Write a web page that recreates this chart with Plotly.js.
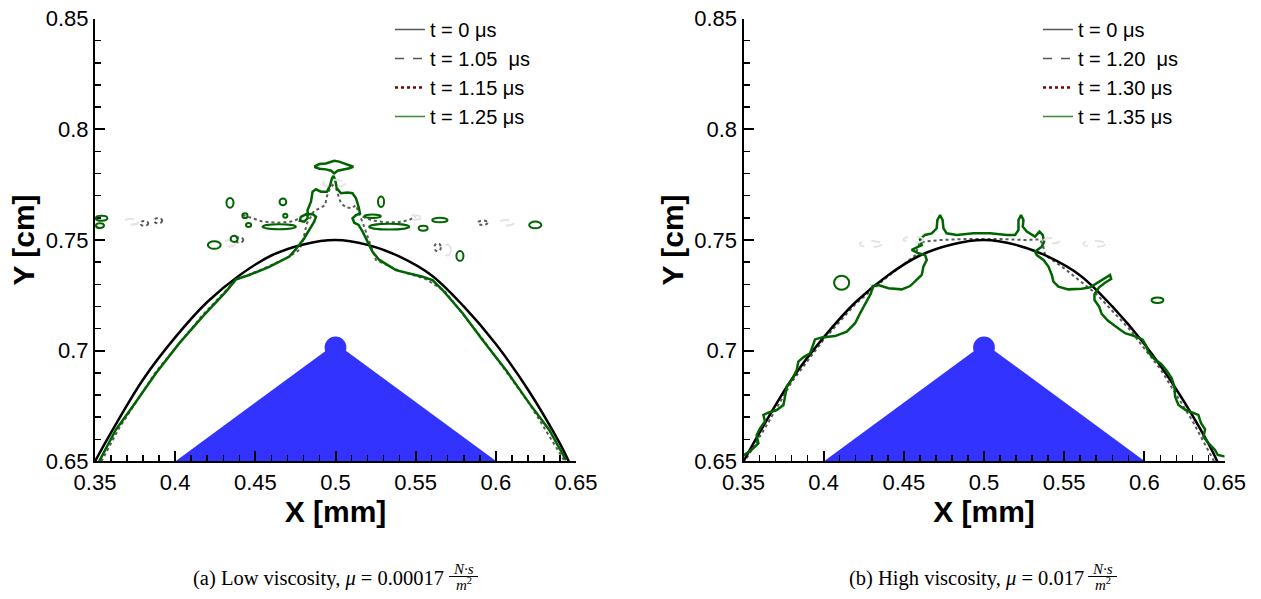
<!DOCTYPE html>
<html><head><meta charset="utf-8">
<script src="https://cdn.plot.ly/plotly-3.0.1.min.js"></script>
<style>html,body{margin:0;padding:0;background:#fff}</style>
</head><body><div id="chart" style="width:1261px;height:599px"></div>
<script>
// ---------- shared: initial interface (t = 0) and the blue wedge ----------
const t0X = [0.350,0.360,0.380,0.400,0.420,0.440,0.460,0.480,0.500,0.520,0.540,0.560,0.580,0.600,0.620,0.640,0.6455];
const t0Y = [0.650,0.663,0.687,0.706,0.722,0.734,0.743,0.748,0.750,0.7478,0.7425,0.734,0.720,0.703,0.6825,0.658,0.650];
const wedgeX = [0.400,0.494,0.5065,0.6005];
const wedgeY = [0.650,0.700,0.700,0.650];
const capCx = 0.500, capCy = 0.7015, capRx = 0.0068, capRy = 0.0049;

// ---------- (a) low viscosity ----------
const lowLabels = ['t = 0 \u03bcs', 't = 1.05\u00a0 \u03bcs', 't = 1.15 \u03bcs', 't = 1.25 \u03bcs'];
const lowGreenX = [0.3526,0.3629,0.3734,0.3880,0.4025,0.4171,0.4317,0.4379,0.4462,0.4587,0.4712,0.4760,0.4805,0.4836,0.4867,0.4878,0.4857,0.4816,0.4784,0.4778,0.4805,0.4826,0.4826,0.4847,0.4857,0.4878,0.4909,0.4947,0.4967,0.4978,0.4988,0.4998,0.5009,0.5034,0.5075,0.5106,0.5128,0.5144,0.5153,0.5128,0.5106,0.5117,0.5144,0.5169,0.5200,0.5231,0.5273,0.5377,0.5543,0.5605,0.5668,0.5793,0.5917,0.6063,0.6209,0.6333,0.6438];
const lowGreenY = [0.6500,0.6642,0.6747,0.6898,0.7033,0.7154,0.7267,0.7322,0.7342,0.7379,0.7425,0.7465,0.7508,0.7545,0.7583,0.7605,0.7617,0.7616,0.7605,0.7587,0.7583,0.7598,0.7635,0.7673,0.7718,0.7729,0.7718,0.7718,0.7748,0.7779,0.7789,0.7771,0.7733,0.7711,0.7714,0.7711,0.7688,0.7650,0.7620,0.7613,0.7598,0.7578,0.7568,0.7538,0.7492,0.7447,0.7410,0.7364,0.7334,0.7319,0.7274,0.7169,0.7048,0.6913,0.6762,0.6642,0.6506];
const lowCapX = [0.4867,0.4899,0.4940,0.4972,0.4992,0.5023,0.5065,0.5111,0.5086,0.5044,0.5013,0.4992,0.4972,0.4940,0.4899,0.4867];
const lowCapY = [0.7831,0.7843,0.7846,0.7854,0.7858,0.7854,0.7843,0.7831,0.7824,0.7819,0.7813,0.7801,0.7813,0.7819,0.7822,0.7831];
const lowDotX = [0.3540,0.3650,0.3880,0.4170,0.4380,0.4550,0.4700,0.4774,0.4799,0.4811,0.4826,0.4847,0.4867,0.4903,0.4936,0.4946,0.4961,0.4982,0.5003,0.5019,0.5034,0.5065,0.5102,0.5127,0.5144,0.5159,0.5179,0.5200,0.5227,0.5252,0.5400,0.5560,0.5680,0.5920,0.6210,0.6430,null,0.4420,0.4483,0.4545,0.4628,0.4711,0.4763,0.4800,null,0.5169,0.5231,0.5314,0.5398,0.5460,0.5497];
const lowDotY = [0.6500,0.6650,0.6905,0.7160,0.7320,0.7370,0.7420,0.7455,0.7500,0.7545,0.7583,0.7605,0.7633,0.7643,0.7658,0.7696,0.7726,0.7748,0.7733,0.7696,0.7666,0.7648,0.7643,0.7658,0.7628,0.7598,0.7560,0.7515,0.7462,0.7410,0.7360,0.7325,0.7270,0.7050,0.6760,0.6500,null,0.7613,0.7598,0.7583,0.7578,0.7581,0.7593,0.7583,null,0.7605,0.7588,0.7580,0.7581,0.7590,0.7605];
// detached droplets (green, t = 1.25)
const lowBlobCx = [0.4342,0.4672,0.5284,0.3541,0.3531,0.4435,0.4458,0.4649,0.4687,0.5335,0.5231,0.5651,0.5547,0.6246,0.4244,0.4368,0.5776];
const lowBlobCy = [0.7668,0.7672,0.7673,0.7598,0.7565,0.7610,0.7568,0.7560,0.7610,0.7560,0.7607,0.7590,0.7553,0.7568,0.7477,0.7505,0.7428];
const lowBlobRx = [0.0022,0.0021,0.0019,0.0036,0.0025,0.0016,0.0016,0.0104,0.0013,0.0125,0.0052,0.0048,0.0028,0.0038,0.0040,0.0022,0.0022];
const lowBlobRy = [0.0022,0.0015,0.0024,0.0011,0.0011,0.0011,0.0009,0.0011,0.0009,0.0013,0.0008,0.0010,0.0011,0.0015,0.0017,0.0014,0.0022];
// small droplets of t = 1.15 (dotted)
const lowDropCx = [0.3807,0.3894,0.5918,0.5637,0.4400];
const lowDropCy = [0.7575,0.7587,0.7578,0.7467,0.7500];
const lowDropRx = [0.0025,0.0025,0.0030,0.0020,0.0025];
const lowDropRy = [0.0011,0.0012,0.0010,0.0018,0.0012];
// faint droplets of t = 1.05 (dashed)
const lowFaintCx = [0.3728,0.4992,0.6067,0.4337,0.5699,0.5493];
const lowFaintCy = [0.7583,0.7756,0.7578,0.7485,0.7455,0.7602];
const lowFaintRx = [0.0045,0.0070,0.0045,0.0040,0.0020,0.0040];
const lowFaintRy = [0.0013,0.0016,0.0012,0.0014,0.0025,0.0010];

// ---------- (b) high viscosity ----------
const highLabels = ['t = 0 \u03bcs', 't = 1.20\u00a0 \u03bcs', 't = 1.30 \u03bcs', 't = 1.35 \u03bcs'];
const highGreenX = [0.3489,0.3551,0.3593,0.3582,0.3603,0.3634,0.3624,0.3655,0.3707,0.3749,0.3759,0.3769,0.3801,0.3832,0.3842,0.3873,0.3915,0.3936,0.3946,0.3988,0.4071,0.4144,0.4196,0.4227,0.4268,0.4295,0.4306,0.4341,0.4404,0.4487,0.4539,0.4580,0.4612,0.4622,0.4643,0.4632,0.4591,0.4549,0.4612,0.4601,0.4632,0.4674,0.4705,0.4709,0.4726,0.4742,0.4747,0.4767,0.4830,0.4934,0.5038,0.5142,0.5194,0.5215,0.5215,0.5231,0.5246,0.5242,0.5267,0.5318,0.5346,0.5366,0.5375,0.5360,0.5318,0.5329,0.5371,0.5402,0.5423,0.5433,0.5464,0.5526,0.5610,0.5662,0.5703,0.5745,0.5786,0.5793,0.5755,0.5718,0.5689,0.5689,0.5718,0.5734,0.5772,0.5828,0.5880,0.5938,0.5988,0.6011,0.6026,0.6061,0.6105,0.6140,0.6171,0.6188,0.6192,0.6213,0.6258,0.6337,0.6354,0.6379,0.6369,0.6400,0.6441,0.6458,0.6508];
const highGreenY = [0.6521,0.6552,0.6582,0.6619,0.6649,0.6680,0.6710,0.6720,0.6732,0.6755,0.6792,0.6838,0.6868,0.6913,0.6951,0.6970,0.6988,0.7026,0.7051,0.7060,0.7066,0.7086,0.7124,0.7169,0.7222,0.7259,0.7292,0.7297,0.7282,0.7277,0.7292,0.7319,0.7342,0.7380,0.7410,0.7432,0.7440,0.7455,0.7477,0.7503,0.7523,0.7530,0.7553,0.7590,0.7613,0.7590,0.7553,0.7530,0.7523,0.7530,0.7530,0.7523,0.7523,0.7545,0.7590,0.7613,0.7590,0.7560,0.7538,0.7515,0.7538,0.7523,0.7493,0.7470,0.7447,0.7432,0.7410,0.7380,0.7342,0.7312,0.7289,0.7277,0.7280,0.7286,0.7304,0.7322,0.7342,0.7324,0.7307,0.7286,0.7256,0.7229,0.7199,0.7166,0.7136,0.7106,0.7079,0.7066,0.7051,0.7023,0.6993,0.6963,0.6940,0.6910,0.6875,0.6835,0.6792,0.6755,0.6732,0.6710,0.6672,0.6645,0.6612,0.6582,0.6552,0.6529,0.6521];
const highDotX = [0.3520,0.3650,0.3800,0.4000,0.4200,0.4400,0.4570,0.4600,0.4726,0.4900,0.5100,0.5250,0.5350,0.5370,0.5381,0.5500,0.5700,0.5900,0.6100,0.6300,0.6435];
const highDotY = [0.6515,0.6670,0.6858,0.7050,0.7212,0.7335,0.7430,0.7490,0.7500,0.7505,0.7505,0.7500,0.7503,0.7470,0.7432,0.7372,0.7257,0.7103,0.6917,0.6683,0.6500];
const highBlobCx = [0.4112,0.6082];
const highBlobCy = [0.7307,0.7228];
const highBlobRx = [0.0047,0.0037];
const highBlobRy = [0.0032,0.0012];
const highFaintCx = [0.4293,0.4560,0.5423,0.5687];
const highFaintCy = [0.7482,0.7502,0.7497,0.7483];
const highFaintRx = [0.0068,0.0062,0.0050,0.0068];
const highFaintRy = [0.0014,0.0014,0.0012,0.0014];

// ---------- styles ----------
const BLACK = '#000000', GREEN = '#006400', GRAYDOT = '#5a5a5a', FAINT = '#e4e4e4', BLUE = '#3333ff';
const SANS = 'Liberation Sans, Arial, Helvetica, sans-serif';
const SERIF = 'Liberation Serif, Times New Roman, serif';

function panelTraces(xa, ya, legendId, labels, greenX, greenY, dotX, dotY, extra) {
  const tr = [];
  tr.push({x: wedgeX, y: wedgeY, xaxis: xa, yaxis: ya, mode: 'lines', fill: 'toself',
           fillcolor: BLUE, line: {width: 0, color: BLUE}, showlegend: false, hoverinfo: 'skip'});
  tr.push({x: dotX, y: dotY, xaxis: xa, yaxis: ya, mode: 'lines', connectgaps: false,
           line: {color: GRAYDOT, width: 2, dash: 'dot'}, showlegend: false});
  tr.push({x: t0X, y: t0Y, xaxis: xa, yaxis: ya, mode: 'lines',
           line: {color: BLACK, width: 2.5, shape: 'spline', smoothing: 1}, showlegend: false});
  tr.push({x: greenX, y: greenY, xaxis: xa, yaxis: ya, mode: 'lines',
           line: {color: GREEN, width: 2.5}, showlegend: false});
  extra.forEach(e => tr.push(Object.assign({xaxis: xa, yaxis: ya, mode: 'lines', showlegend: false}, e)));
  // legend entries
  const legStyles = [
    {color: '#555555', width: 1.5, dash: 'solid'},
    {color: '#555555', width: 1.5, dash: 'dash'},
    {color: '#7a0000', width: 2.5, dash: 'dot'},
    {color: '#3a8a3a', width: 1.5, dash: 'solid'}
  ];
  labels.forEach((lab, i) => tr.push({x: [null], y: [null], xaxis: xa, yaxis: ya, mode: 'lines',
      name: lab, legend: legendId, line: legStyles[i], showlegend: true}));
  return tr;
}

const data = [].concat(
  panelTraces('x', 'y', 'legend', lowLabels, lowGreenX, lowGreenY, lowDotX, lowDotY,
              [{x: lowCapX, y: lowCapY, line: {color: GREEN, width: 2.5}}]),
  panelTraces('x2', 'y2', 'legend2', highLabels, highGreenX, highGreenY, highDotX, highDotY, [])
);

function ellipses(cx, cy, rx, ry, xr, yr, line, fill) {
  return cx.map((c, i) => ({type: 'circle', xref: xr, yref: yr,
    x0: c - rx[i], x1: c + rx[i], y0: cy[i] - ry[i], y1: cy[i] + ry[i],
    line: line, fillcolor: fill || 'rgba(0,0,0,0)'}));
}
const greenLine = {color: GREEN, width: 2};
const faintLine = {color: FAINT, width: 2, dash: 'dash'};
const dropLine = {color: GRAYDOT, width: 2, dash: 'dot'};

const shapes = [].concat(
  ellipses(lowFaintCx, lowFaintCy, lowFaintRx, lowFaintRy, 'x', 'y', faintLine),
  ellipses(lowDropCx, lowDropCy, lowDropRx, lowDropRy, 'x', 'y', dropLine),
  ellipses(lowBlobCx, lowBlobCy, lowBlobRx, lowBlobRy, 'x', 'y', greenLine),
  ellipses([capCx], [capCy], [capRx], [capRy], 'x', 'y', {width: 0}, BLUE),
  ellipses(highFaintCx, highFaintCy, highFaintRx, highFaintRy, 'x2', 'y2', faintLine),
  ellipses(highBlobCx, highBlobCy, highBlobRx, highBlobRy, 'x2', 'y2', greenLine),
  ellipses([capCx], [capCy], [capRx], [capRy], 'x2', 'y2', {width: 0}, BLUE),
  [
    {type: 'line', xref: 'paper', yref: 'paper', x0: 449/1261, x1: 478/1261, y0: 1 - 576.5/599, y1: 1 - 576.5/599, line: {color: '#000', width: 1}},
    {type: 'line', xref: 'paper', yref: 'paper', x0: 1088/1261, x1: 1117/1261, y0: 1 - 576.5/599, y1: 1 - 576.5/599, line: {color: '#000', width: 1}}
  ]
);

function axis(domain, anchor, range, titleText, isX) {
  return {
    domain: domain, anchor: anchor, range: range, dtick: 0.05, tick0: 0,
    showline: true, linecolor: '#000', linewidth: 2, mirror: false,
    ticks: 'inside', ticklen: 10, tickwidth: 2, tickcolor: '#000',
    showgrid: false, zeroline: false,
    tickfont: {family: SANS, size: 22, color: '#000'},
    minor: {dtick: 0.01, ticks: 'inside', ticklen: 6, tickwidth: 1.5, tickcolor: '#000', showgrid: false},
    title: {text: '<b>' + titleText + '</b>', font: {family: SANS, size: 30, color: '#000'}, standoff: isX ? 0 : 2}
  };
}
const yDom = [1 - 461.4/599, 1 - 18.6/599];

const legendBase = {y: 1 - 10/599, xanchor: 'left', yanchor: 'top', bgcolor: 'rgba(0,0,0,0)', borderwidth: 0,
                    font: {family: SANS, size: 20, color: '#000'}, tracegroupgap: 0, itemwidth: 30};

const layout = {
  width: 1261, height: 599, margin: {l: 0, r: 0, t: 0, b: 0},
  paper_bgcolor: '#fff', plot_bgcolor: '#fff', showlegend: true,
  xaxis: axis([95/1261, 576/1261], 'y', [0.35, 0.65], 'X [mm]', true),
  yaxis: axis(yDom, 'x', [0.65, 0.85], 'Y [cm]', false),
  xaxis2: axis([743.5/1261, 1224.5/1261], 'y2', [0.35, 0.65], 'X [mm]', true),
  yaxis2: axis(yDom, 'x2', [0.65, 0.85], 'Y [cm]', false),
  legend: Object.assign({x: 390/1261}, legendBase),
  legend2: Object.assign({x: 1038/1261}, legendBase),
  shapes: shapes,
  annotations: [
    {xref: 'paper', yref: 'paper', x: 446/1261, y: 1 - 578/599, xanchor: 'right', yanchor: 'middle', showarrow: false,
     text: '(a) Low viscosity, <i>\u03bc</i> = 0.00017', font: {family: SERIF, size: 20.5, color: '#000'}},
    {xref: 'paper', yref: 'paper', x: 463.5/1261, y: 1 - 569/599, xanchor: 'center', yanchor: 'middle', showarrow: false,
     text: '<i>N\u00b7s</i>', font: {family: SERIF, size: 15, color: '#000'}},
    {xref: 'paper', yref: 'paper', x: 463.5/1261, y: 1 - 584/599, xanchor: 'center', yanchor: 'middle', showarrow: false,
     text: '<i>m</i><sup>2</sup>', font: {family: SERIF, size: 15, color: '#000'}},
    {xref: 'paper', yref: 'paper', x: 1086/1261, y: 1 - 578/599, xanchor: 'right', yanchor: 'middle', showarrow: false,
     text: '(b) High viscosity, <i>\u03bc</i> = 0.017', font: {family: SERIF, size: 20.5, color: '#000'}},
    {xref: 'paper', yref: 'paper', x: 1102.5/1261, y: 1 - 569/599, xanchor: 'center', yanchor: 'middle', showarrow: false,
     text: '<i>N\u00b7s</i>', font: {family: SERIF, size: 15, color: '#000'}},
    {xref: 'paper', yref: 'paper', x: 1102.5/1261, y: 1 - 584/599, xanchor: 'center', yanchor: 'middle', showarrow: false,
     text: '<i>m</i><sup>2</sup>', font: {family: SERIF, size: 15, color: '#000'}}
  ]
};

Plotly.newPlot('chart', data, layout, {displayModeBar: false, staticPlot: true});
</script></body></html>
